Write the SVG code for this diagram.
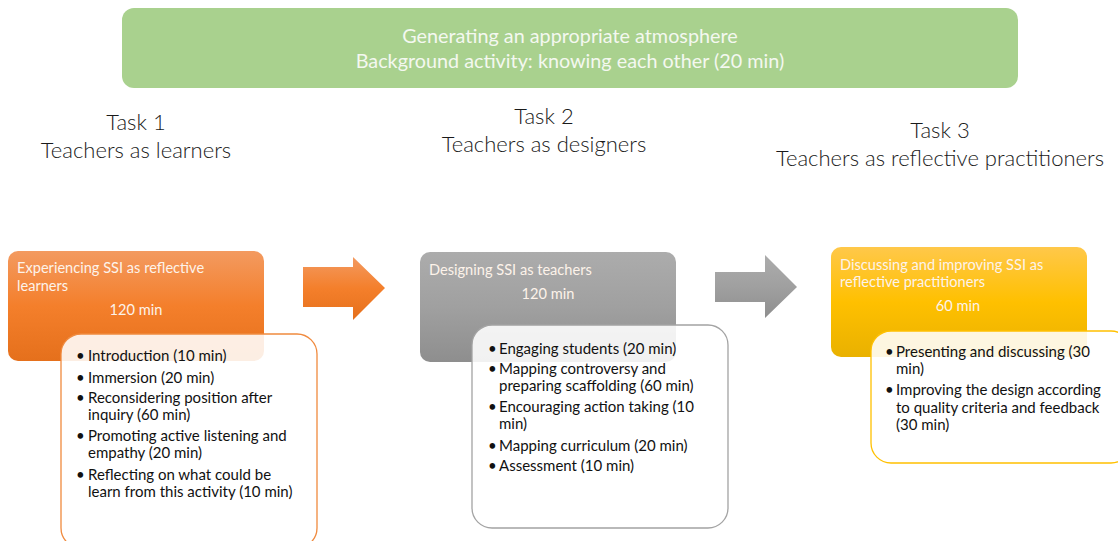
<svg xmlns="http://www.w3.org/2000/svg" width="1118" height="541" viewBox="0 0 1118 541">
<defs>
<linearGradient id="gOrange" x1="0" y1="0" x2="0" y2="1">
<stop offset="0" stop-color="#f39a60"/><stop offset="0.5" stop-color="#f47f2b"/><stop offset="1" stop-color="#e5701c"/>
</linearGradient>
<linearGradient id="gGray" x1="0" y1="0" x2="0" y2="1">
<stop offset="0" stop-color="#acacac"/><stop offset="0.5" stop-color="#a0a0a0"/><stop offset="1" stop-color="#8e8e8e"/>
</linearGradient>
<linearGradient id="gYellow" x1="0" y1="0" x2="0" y2="1">
<stop offset="0" stop-color="#ffc84a"/><stop offset="0.5" stop-color="#ffc000"/><stop offset="1" stop-color="#e9b100"/>
</linearGradient>
<style>
.hdr{font-family:Lato,"Open Sans",sans-serif;font-size:19.8px;fill:#f4f8f0;text-anchor:middle}
.task{font-family:Lato,"Open Sans",sans-serif;font-weight:300;font-size:22px;fill:#1a1a1a;text-anchor:middle}
.ttl{font-family:Lato,"Open Sans",sans-serif;font-size:14.6px;fill:#fdf3ea}
.ctr{text-anchor:middle}
.item{font-family:Lato,"Open Sans",sans-serif;font-size:15px;fill:#111}
.inner{fill:#ffffff;fill-opacity:0.88;stroke-width:1.3}
</style>
</defs>
<g id="header">
<rect x="122" y="8" width="896" height="80" rx="12" fill="#a9d18e"/>
<text class="hdr" x="570" y="43">Generating an appropriate atmosphere</text>
<text class="hdr" x="570" y="68">Background activity: knowing each other (20 min)</text>
</g>
<g id="task1-label">
<text class="task" x="136" y="130">Task 1</text>
<text class="task" x="136" y="158">Teachers as learners</text>
</g>
<g id="task2-label">
<text class="task" x="544" y="124">Task 2</text>
<text class="task" x="544" y="152">Teachers as designers</text>
</g>
<g id="task3-label">
<text class="task" x="940" y="138">Task 3</text>
<text class="task" x="940" y="166">Teachers as reflective practitioners</text>
</g>
<g id="connectors">
<polygon points="303,267 353,267 353,257 385,288 353,320 353,307 303,307" fill="url(#gOrange)"/>
<polygon points="715,272 765,272 765,255 797,287 765,318 765,302 715,302" fill="url(#gGray)"/>
</g>
<g id="task1">
<rect x="8" y="251" width="256" height="110" rx="10" fill="url(#gOrange)"/>
<text class="ttl" x="17" y="273">Experiencing SSI as reflective</text>
<text class="ttl" x="17" y="291">learners</text>
<text class="ttl ctr" x="136" y="315">120 min</text>
<rect class="inner" x="61" y="334" width="256" height="214" rx="20" stroke="#f08a3e"/>
<g class="item">
<text x="76" y="361">•</text><text x="88" y="361">Introduction (10 min)</text>
<text x="76" y="383">•</text><text x="88" y="383">Immersion (20 min)</text>
<text x="76" y="403">•</text><text x="88" y="403">Reconsidering position after</text>
<text x="88" y="420">inquiry (60 min)</text>
<text x="76" y="441">•</text><text x="88" y="441">Promoting active listening and</text>
<text x="88" y="458">empathy (20 min)</text>
<text x="76" y="480">•</text><text x="88" y="480">Reflecting on what could be</text>
<text x="88" y="497">learn from this activity (10 min)</text>
</g>
</g>
<g id="task2">
<rect x="420" y="252" width="256" height="110" rx="10" fill="url(#gGray)"/>
<text class="ttl" x="429" y="275">Designing SSI as teachers</text>
<text class="ttl ctr" x="548" y="299">120 min</text>
<rect class="inner" x="472" y="325" width="256" height="203" rx="20" stroke="#a3a3a3"/>
<g class="item">
<text x="488" y="354">•</text><text x="499" y="354">Engaging students (20 min)</text>
<text x="488" y="374">•</text><text x="499" y="374">Mapping controversy and</text>
<text x="499" y="391">preparing scaffolding (60 min)</text>
<text x="488" y="412">•</text><text x="499" y="412">Encouraging action taking (10</text>
<text x="499" y="429">min)</text>
<text x="488" y="451">•</text><text x="499" y="451">Mapping curriculum (20 min)</text>
<text x="488" y="471">•</text><text x="499" y="471">Assessment (10 min)</text>
</g>
</g>
<g id="task3">
<rect x="831" y="247" width="256" height="110" rx="10" fill="url(#gYellow)"/>
<text class="ttl" x="840" y="270">Discussing and improving SSI as</text>
<text class="ttl" x="840" y="287">reflective practitioners</text>
<text class="ttl ctr" x="958" y="311">60 min</text>
<rect class="inner" x="871" y="331" width="260" height="132" rx="20" stroke="#ffc000"/>
<g class="item">
<text x="885" y="357">•</text><text x="896" y="357">Presenting and discussing (30</text>
<text x="896" y="374">min)</text>
<text x="885" y="395">•</text><text x="896" y="395">Improving the design according</text>
<text x="896" y="413">to quality criteria and feedback</text>
<text x="896" y="430">(30 min)</text>
</g>
</g>
</svg>
